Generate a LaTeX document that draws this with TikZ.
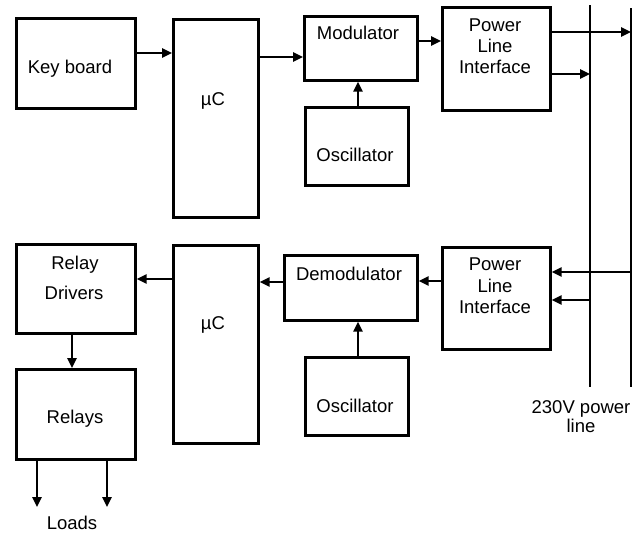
\documentclass[tikz,border=0pt]{standalone}
\usepackage{fontspec}
\setmainfont{Liberation Sans}
\usetikzlibrary{arrows.meta}
\begin{document}
\begin{tikzpicture}[x=1pt,y=-1pt,
  box/.style={draw, line width=2.6pt, inner sep=0pt, anchor=north west},
  txt/.style={anchor=base, inner sep=0pt, font=\fontsize{18.5}{20}\selectfont},
  arr/.style={line width=2.4pt, -{Triangle[length=10pt,width=9pt]}},
  pline/.style={line width=2.6pt}]
\useasboundingbox (0,0) rectangle (639,533);
% boxes
\node[box, minimum width=119pt, minimum height=90pt]  (kb)   at (15,17) {};
\node[box, minimum width=85pt,  minimum height=198pt] (uc1)  at (172,18) {};
\node[box, minimum width=113pt, minimum height=64pt]  (mod)  at (303,15) {};
\node[box, minimum width=103pt, minimum height=78pt]  (osc1) at (304,106) {};
\node[box, minimum width=108pt, minimum height=103pt] (pli1) at (441,6) {};
\node[box, minimum width=119pt, minimum height=89pt]  (rd)   at (15,243) {};
\node[box, minimum width=119pt, minimum height=90pt]  (rl)   at (15,368) {};
\node[box, minimum width=85pt,  minimum height=198pt] (uc2)  at (172,244) {};
\node[box, minimum width=133pt, minimum height=65pt]  (dem)  at (283,254) {};
\node[box, minimum width=103pt, minimum height=78pt]  (osc2) at (304,356) {};
\node[box, minimum width=108pt, minimum height=102pt] (pli2) at (441,246) {};
% texts
\node[txt] (tkb)   at (70,73)  {Key board};
\node[txt] (tuc1)  at (213,105) {µC};
\node[txt] (tmod)  at (358,39)  {Modulator};
\node[txt] (tosc1) at (355,161) {Oscillator};
\node[txt] (tp1a)  at (495,31)  {Power};
\node[txt] (tp1b)  at (495,52)  {Line};
\node[txt] (tp1c)  at (495,73)  {Interface};
\node[txt] (trda)  at (75,269)  {Relay};
\node[txt] (trdb)  at (74,299)  {Drivers};
\node[txt] (trl)   at (75,423)  {Relays};
\node[txt] (tuc2)  at (213,329) {µC};
\node[txt] (tdem)  at (349,280) {Demodulator};
\node[txt] (tosc2) at (355,412) {Oscillator};
\node[txt] (tp2a)  at (495,270) {Power};
\node[txt] (tp2b)  at (495,292) {Line};
\node[txt] (tp2c)  at (495,313) {Interface};
\node[txt] (tpow)  at (581,413) {230V power};
\node[txt] (tline) at (581,432) {line};
\node[txt] (tload) at (72,529)  {Loads};
% power lines
\coordinate (L1top) at (590,5);
\coordinate (L1bot) at (590,387);
\coordinate (L2top) at (631,8);
\coordinate (L2bot) at (631,387);
\draw[pline] (L1top) -- (L1bot);
\draw[pline] (L2top) -- (L2bot);
% connectors
\draw[arr] (kb.east |- 0,53) -- (uc1.west |- 0,53);
\draw[arr] (uc1.east |- 0,57) -- (mod.west |- 0,57);
\draw[arr] (mod.east |- 0,41) -- (pli1.west |- 0,41);
\draw[arr] (osc1.north -| 358,0) -- (mod.south -| 358,0);
\draw[arr] (pli1.east |- 0,32) -- (L2top |- 0,32);
\draw[arr] (pli1.east |- 0,74) -- (L1top |- 0,74);
\draw[arr] (L2top |- 0,272) -- (pli2.east |- 0,272);
\draw[arr] (L1top |- 0,300) -- (pli2.east |- 0,300);
\draw[arr] (pli2.west |- 0,281) -- (dem.east |- 0,281);
\draw[arr] (dem.west |- 0,282) -- (uc2.east |- 0,282);
\draw[arr] (uc2.west |- 0,279) -- (rd.east |- 0,279);
\draw[arr] (rd.south -| 72,0) -- (rl.north -| 72,0);
\draw[arr] (osc2.north -| 358,0) -- (dem.south -| 358,0);
\coordinate (ld1) at (37,507);
\coordinate (ld2) at (107,507);
\draw[arr] (rl.south -| ld1) -- (ld1);
\draw[arr] (rl.south -| ld2) -- (ld2);
\end{tikzpicture}
\end{document}
